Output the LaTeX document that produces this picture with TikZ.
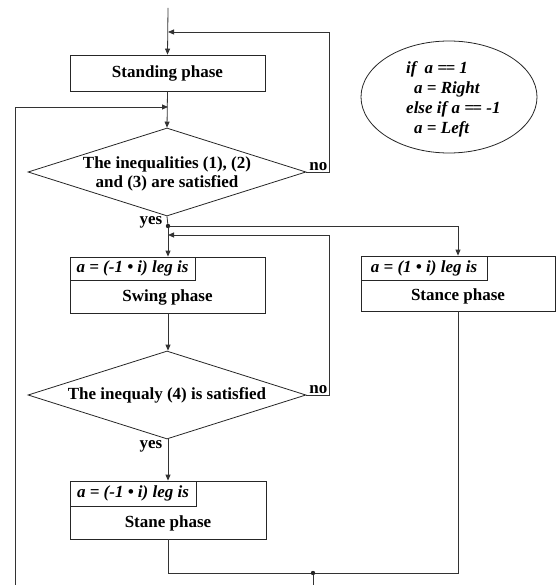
\documentclass[tikz,border=0pt]{standalone}
\usepackage{fontspec}
\setmainfont{Liberation Serif}
\usetikzlibrary{arrows.meta,shapes.geometric}
\tikzset{
  lnk/.style={draw=black!80, line width=0.8pt},
  arr/.style={lnk, -{Triangle[length=6pt,width=5pt]}},
  pbox/.style={draw=black!85, line width=0.8pt, rectangle, inner sep=0pt},
  hbox/.style={draw=black!85, line width=0.8pt, rectangle, inner sep=0pt, anchor=north west,
     font=\fontsize{17}{18.5}\selectfont\bfseries\itshape},
  decision/.style={draw=black!85, line width=0.8pt, diamond, inner sep=0pt, minimum width=278pt, minimum height=88pt},
  txt/.style={font=\fontsize{17}{18.5}\selectfont\bfseries, align=center, inner sep=0pt},
  lbl/.style={font=\fontsize{17}{18.5}\selectfont\bfseries, inner sep=1.5pt},
  dot/.style={fill=black!85}
}
\begin{document}
\begin{tikzpicture}[x=1pt,y=-1pt]
\useasboundingbox (0,0) rectangle (557,585);

% boxes
\node[pbox, minimum width=195pt, minimum height=36pt] (stand) at (167.5,73) {};
\node[txt] (standt) at (stand) {Standing phase};

\node[decision] (d1) at (167,172) {};
\node[txt] (d1t) at (167,174) {The inequalities (1), (2)\\and (3) are satisfied};

\node[pbox, minimum width=195pt, minimum height=56pt] (swing) at (167.5,285) {};
\node[hbox, minimum width=125pt, minimum height=23pt] (swingh) at (swing.north west) {a = (-1 • i) leg is};
\node[txt] (swingt) at (167.5,297) {Swing phase};

\node[pbox, minimum width=194pt, minimum height=55pt] (stance) at (458,283.5) {};
\node[hbox, minimum width=126pt, minimum height=24pt] (stanceh) at (stance.north west) {a = (1 • i) leg is};
\node[txt] (stancet) at (458,296) {Stance phase};

\node[decision] (d2) at (167,395) {};
\node[txt] (d2t) at (167,395) {The inequaly (4) is satisfied};

\node[pbox, minimum width=196pt, minimum height=58pt] (stane) at (168,510) {};
\node[hbox, minimum width=126pt, minimum height=25pt] (staneh) at (stane.north west) {a = (-1 • i) leg is};
\node[txt] (stanet) at (168,523) {Stane phase};

\node[draw=black!85, line width=0.8pt, ellipse, minimum width=176pt, minimum height=112pt, inner sep=0pt] (ell) at (449,97) {};
\node[font=\fontsize{17}{20}\selectfont\bfseries\itshape, align=left, anchor=west, inner sep=0pt] (ellt) at (406,99)
  {if\hspace{8pt}a =\kern-1.5pt= 1\\\hspace*{8pt}a = Right\\else if a =\kern-1.5pt= -1\\\hspace*{8pt}a = Left};

% coordinates
\coordinate (top) at (168,8);
\coordinate (j1) at (168,32);
\coordinate (j2) at (168,107);
\coordinate (lb) at (15,585);
\coordinate (n1) at (329,172);
\coordinate (ydot) at (168,226);
\coordinate (j3) at (168,235);
\coordinate (n2) at (329,395);
\coordinate (mdot) at (313,573);
\coordinate (bot) at (313,585);

% connectors
\draw[arr] (top) -- (stand.north);
\draw[arr] (d1.east) -- (n1) |- (j1);
\draw[arr] (stand.south) -- (d1.north);
\draw[arr] (lb) |- (j2);
\draw[lnk] (d1.south) -- (ydot);
\draw[arr] (ydot) -- (ydot |- swing.north);
\draw[arr] (ydot) -| (stance.north);
\draw[arr] (d2.east) -- (n2) |- (j3);
\draw[arr] (swing.south -| ydot) -- (d2.north -| ydot);
\draw[arr] (d2.south -| ydot) -- (stane.north);
\draw[lnk] (stane.south) |- (mdot);
\draw[lnk] (stance.south) |- (mdot);
\draw[lnk] (mdot) -- (bot);
\fill[dot] (ydot) circle (2.2pt);
\fill[dot] (mdot) circle (2.2pt);

% labels
\node[lbl, anchor=east] (yes1) at (164,222) {yes};
\node[lbl, anchor=east] (yes2) at (164,446) {yes};
\node[lbl, anchor=south east] (no1) at (n1) {no};
\node[lbl, anchor=south east] (no2) at (n2) {no};
\end{tikzpicture}
\end{document}
